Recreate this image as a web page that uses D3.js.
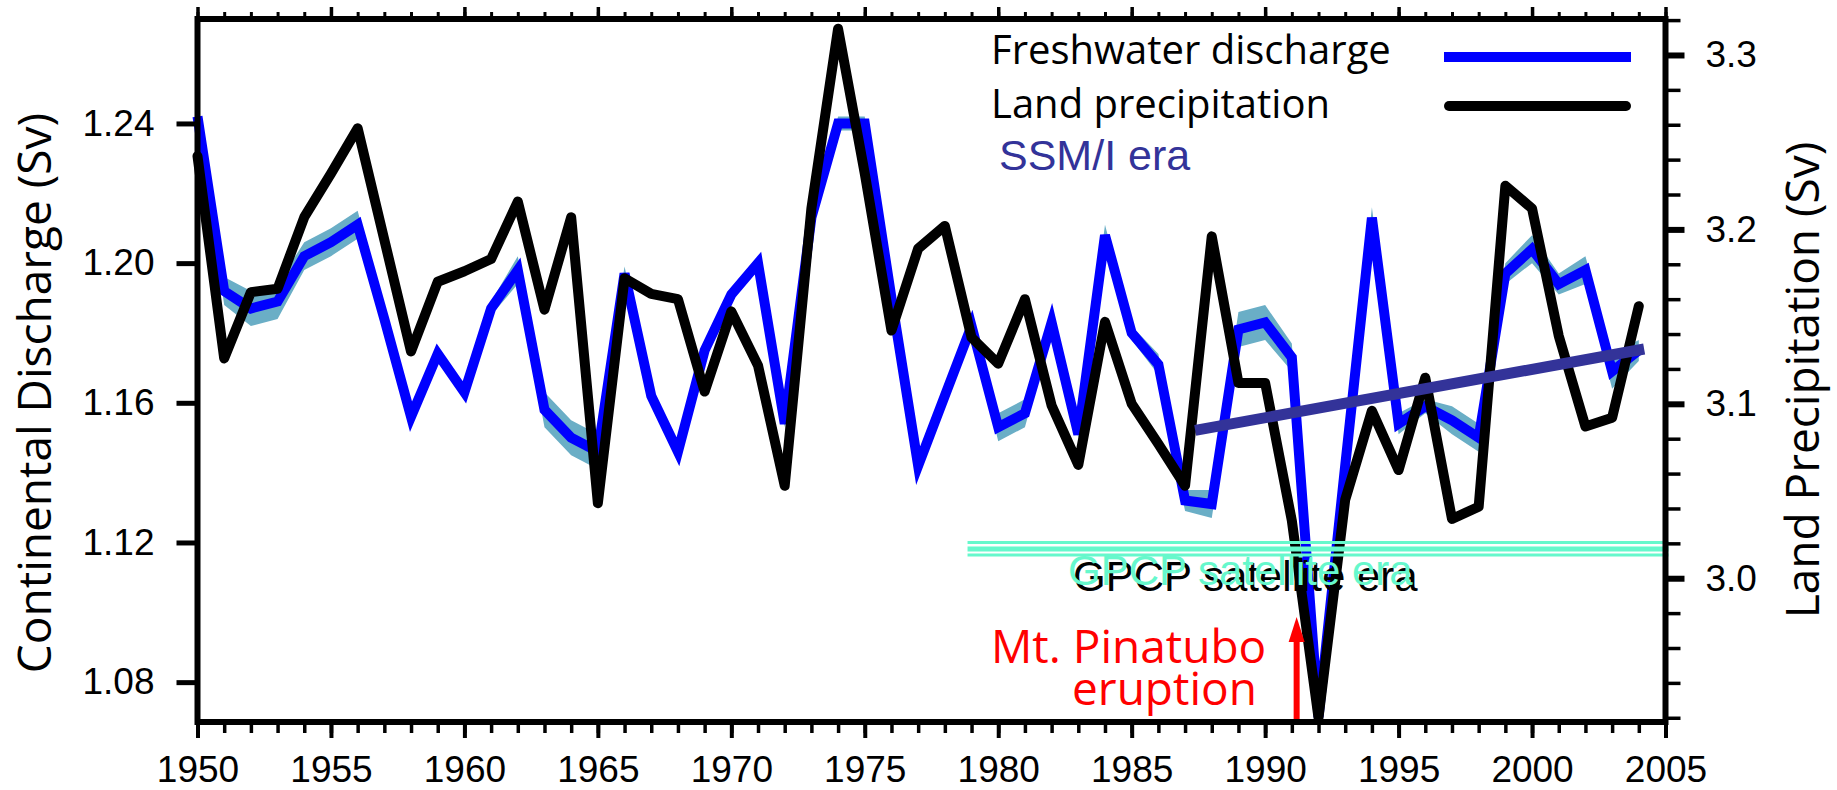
<!DOCTYPE html>
<html>
<head>
<meta charset="utf-8">
<script src="https://cdn.jsdelivr.net/npm/d3@7"></script>
<style>
  body { margin: 0; background: #fff; }
  svg { display: block; }
  .tick text { font-family: "Liberation Sans", Arial, sans-serif; font-size: 37px; fill: #000; }
</style>
</head>
<body>
<svg width="1837" height="790"></svg>
<script>
var years = [1950, 1951, 1952, 1953, 1954, 1955, 1956, 1957, 1958, 1959,
  1960, 1961, 1962, 1963, 1964, 1965, 1966, 1967, 1968, 1969,
  1970, 1971, 1972, 1973, 1974, 1975, 1976, 1977, 1978, 1979,
  1980, 1981, 1982, 1983, 1984, 1985, 1986, 1987, 1988, 1989,
  1990, 1991, 1992, 1993, 1994, 1995, 1996, 1997, 1998, 1999,
  2000, 2001, 2002, 2003, 2004];

// freshwater discharge (Sv), left axis
var discharge = [1.242, 1.192, 1.187, 1.189, 1.202, 1.206, 1.211, 1.184, 1.156, 1.174,
  1.163, 1.187, 1.198, 1.158, 1.150, 1.146, 1.197, 1.162, 1.146, 1.175,
  1.191, 1.200, 1.154, 1.213, 1.240, 1.240, 1.190, 1.142, 1.162, 1.182,
  1.153, 1.157, 1.183, 1.151, 1.208, 1.180, 1.171, 1.132, 1.131, 1.181,
  1.183, 1.173, 1.070, 1.142, 1.213, 1.154, 1.159, 1.155, 1.150, 1.197,
  1.204, 1.194, 1.198, 1.169, 1.175];

// half width of the shaded band round the discharge line
var dischargeErr = [0.001, 0.004, 0.005, 0.005, 0.004, 0.004, 0.004, 0.002, 0.003, 0.002,
  0.002, 0.002, 0.004, 0.005, 0.005, 0.005, 0.002, 0.002, 0.003, 0.002,
  0.002, 0.001, 0.001, 0.001, 0.002, 0.002, 0.001, 0.001, 0.001, 0.001,
  0.004, 0.004, 0.002, 0.001, 0.003, 0.002, 0.003, 0.003, 0.004, 0.005,
  0.005, 0.004, 0.001, 0.001, 0.003, 0.003, 0.002, 0.004, 0.004, 0.003,
  0.004, 0.003, 0.004, 0.005, 0.003];

// land precipitation (Sv), right axis
var precipitation = [3.242, 3.126, 3.164, 3.166, 3.207, 3.232, 3.258, 3.194, 3.130, 3.170,
  3.176, 3.183, 3.216, 3.154, 3.207, 3.043, 3.172, 3.163, 3.160, 3.107,
  3.153, 3.122, 3.053, 3.212, 3.315, 3.232, 3.142, 3.189, 3.202, 3.138,
  3.123, 3.160, 3.099, 3.065, 3.147, 3.100, 3.077, 3.053, 3.196, 3.112,
  3.112, 3.033, 2.920, 3.045, 3.096, 3.062, 3.115, 3.034, 3.041, 3.225,
  3.212, 3.139, 3.087, 3.092, 3.156];

// SSM/I era trend of discharge
var trendYears = [1987.38, 2004.2];
var trendValues = [1.1521, 1.1754];

var yearTicks = [1950, 1955, 1960, 1965, 1970, 1975, 1980, 1985, 1990, 1995, 2000, 2005];
var leftTicks = [1.08, 1.12, 1.16, 1.20, 1.24];
var rightTicks = [3.0, 3.1, 3.2, 3.3];
var rightMinor = [2.92, 2.94, 2.96, 2.98, 3.0, 3.02, 3.04, 3.06, 3.08, 3.1, 3.12, 3.14,
  3.16, 3.18, 3.2, 3.22, 3.24, 3.26, 3.28, 3.3, 3.32];

var gpcpStart = 1978.85;
var pinatuboYear = 1991.18;

var svg = d3.select('svg');
var plotL = 197.5, plotR = 1665.5, plotT = 19, plotB = 722;

var x = d3.scaleLinear().domain([1950, 2005]).range([plotL, plotR]);
var yL = d3.scaleLinear().domain([1.0683, 1.2702]).range([723, 18]);
var yR = d3.scaleLinear().domain([2.917, 3.3212]).range([723, 18]);

var titleFont = '"Open Sans", "DejaVu Sans", sans-serif';
var helv = '"Liberation Sans", Arial, sans-serif';

var rows = years.map(function (d, i) {
  return {year: d, q: discharge[i], e: dischargeErr[i], p: precipitation[i]};
});

// uncertainty band
svg.append('path')
  .datum(rows)
  .attr('fill', '#6aaec6')
  .attr('d', d3.area()
    .x(function (d) { return x(d.year); })
    .y0(function (d) { return yL(d.q - d.e); })
    .y1(function (d) { return yL(d.q + d.e); }));

svg.append('path')
  .datum(rows)
  .attr('fill', 'none')
  .attr('stroke', '#0000ff')
  .attr('stroke-width', 10)
  .attr('stroke-linejoin', 'miter')
  .attr('d', d3.line()
    .x(function (d) { return x(d.year); })
    .y(function (d) { return yL(d.q); }));

svg.append('path')
  .datum(rows)
  .attr('fill', 'none')
  .attr('stroke', '#000')
  .attr('stroke-width', 10)
  .attr('stroke-linejoin', 'round')
  .attr('stroke-linecap', 'round')
  .attr('d', d3.line()
    .x(function (d) { return x(d.year); })
    .y(function (d) { return yR(d.p); }));

// trend line
svg.append('line')
  .attr('x1', x(trendYears[0])).attr('y1', yL(trendValues[0]))
  .attr('x2', x(trendYears[1])).attr('y2', yL(trendValues[1]))
  .attr('stroke', '#333399')
  .attr('stroke-width', 11);

// GPCP satellite era bars
[[3.0205, 3], [3.0168, 5], [3.0133, 3]].forEach(function (b) {
  svg.append('line')
    .attr('x1', x(gpcpStart)).attr('x2', x(2005) + 3)
    .attr('y1', yR(b[0])).attr('y2', yR(b[0]))
    .attr('stroke', '#66f8cc')
    .attr('stroke-width', b[1]);
});

svg.append('text')
  .attr('x', 1073).attr('y', 591)
  .style('font-family', helv).style('font-size', '42px')
  .attr('fill', '#000')
  .text('GPCP satellite era');
svg.append('text')
  .attr('x', 1068).attr('y', 585)
  .style('font-family', helv).style('font-size', '42px')
  .attr('fill', '#66f8cc')
  .text('GPCP satellite era');

// Pinatubo arrow and label
var ax = x(pinatuboYear);
svg.append('line')
  .attr('x1', ax).attr('x2', ax)
  .attr('y1', plotB).attr('y2', 636)
  .attr('stroke', '#ff0000').attr('stroke-width', 6);
svg.append('path')
  .attr('d', 'M' + (ax - 8) + ',642 L' + ax + ',617 L' + (ax + 8) + ',642 Z')
  .attr('fill', '#ff0000');

svg.append('text')
  .attr('x', 991).attr('y', 663)
  .style('font-family', titleFont).style('font-size', '46px')
  .attr('fill', '#ff0000')
  .text('Mt. Pinatubo');
svg.append('text')
  .attr('x', 1072).attr('y', 705)
  .style('font-family', titleFont).style('font-size', '46px')
  .attr('fill', '#ff0000')
  .text('eruption');

// legend
svg.append('text')
  .attr('x', 991).attr('y', 64)
  .style('font-family', titleFont).style('font-size', '40px')
  .text('Freshwater discharge');
svg.append('text')
  .attr('x', 991).attr('y', 118)
  .style('font-family', titleFont).style('font-size', '40px')
  .text('Land precipitation');
svg.append('line')
  .attr('x1', 1444).attr('x2', 1631).attr('y1', 57).attr('y2', 57)
  .attr('stroke', '#0000ff').attr('stroke-width', 10);
svg.append('line')
  .attr('x1', 1449).attr('x2', 1626).attr('y1', 106).attr('y2', 106)
  .attr('stroke', '#000').attr('stroke-width', 10).attr('stroke-linecap', 'round');

svg.append('text')
  .attr('x', 999).attr('y', 170)
  .style('font-family', helv).style('font-size', '43px')
  .attr('fill', '#333399')
  .text('SSM/I era');

// axes
function styleAxis(g, w) {
  g.select('.domain').remove();
  g.selectAll('.tick line').attr('stroke', '#000').attr('stroke-width', w);
}

var allYears = years.concat([2005]);

svg.append('g').attr('transform', 'translate(0,' + plotB + ')')
  .call(d3.axisBottom(x).tickValues(allYears).tickSize(11).tickFormat(''))
  .call(styleAxis, 3.5);
svg.append('g').attr('transform', 'translate(0,' + plotB + ')')
  .call(d3.axisBottom(x).tickValues(yearTicks).tickSize(16).tickPadding(18).tickFormat(d3.format('d')))
  .call(styleAxis, 4);

svg.append('g').attr('transform', 'translate(0,' + plotT + ')')
  .call(d3.axisTop(x).tickValues(allYears).tickSize(7).tickFormat(''))
  .call(styleAxis, 3);
svg.append('g').attr('transform', 'translate(0,' + plotT + ')')
  .call(d3.axisTop(x).tickValues(yearTicks).tickSize(12).tickFormat(''))
  .call(styleAxis, 3.5);

svg.append('g').attr('transform', 'translate(' + plotL + ',0)')
  .call(d3.axisLeft(yL).tickValues(leftTicks).tickSize(21).tickPadding(22).tickFormat(d3.format('.2f')))
  .call(styleAxis, 5);

svg.append('g').attr('transform', 'translate(' + plotR + ',0)')
  .call(d3.axisRight(yR).tickValues(rightMinor).tickSize(15).tickFormat(''))
  .call(styleAxis, 3.5);
svg.append('g').attr('transform', 'translate(' + plotR + ',0)')
  .call(d3.axisRight(yR).tickValues(rightTicks).tickSize(19).tickPadding(21).tickFormat(d3.format('.1f')))
  .call(styleAxis, 6);

// frame
svg.append('rect')
  .attr('x', plotL).attr('y', plotT)
  .attr('width', plotR - plotL).attr('height', plotB - plotT)
  .attr('fill', 'none').attr('stroke', '#000').attr('stroke-width', 6);

// axis titles
svg.append('text')
  .attr('transform', 'translate(51,393) rotate(-90)')
  .style('text-anchor', 'middle')
  .style('font-family', titleFont).style('font-size', '46px')
  .text('Continental Discharge (Sv)');
svg.append('text')
  .attr('transform', 'translate(1819,380) rotate(-90)')
  .style('text-anchor', 'middle')
  .style('font-family', titleFont).style('font-size', '46px')
  .text('Land Precipitation (Sv)');
</script>
</body>
</html>
